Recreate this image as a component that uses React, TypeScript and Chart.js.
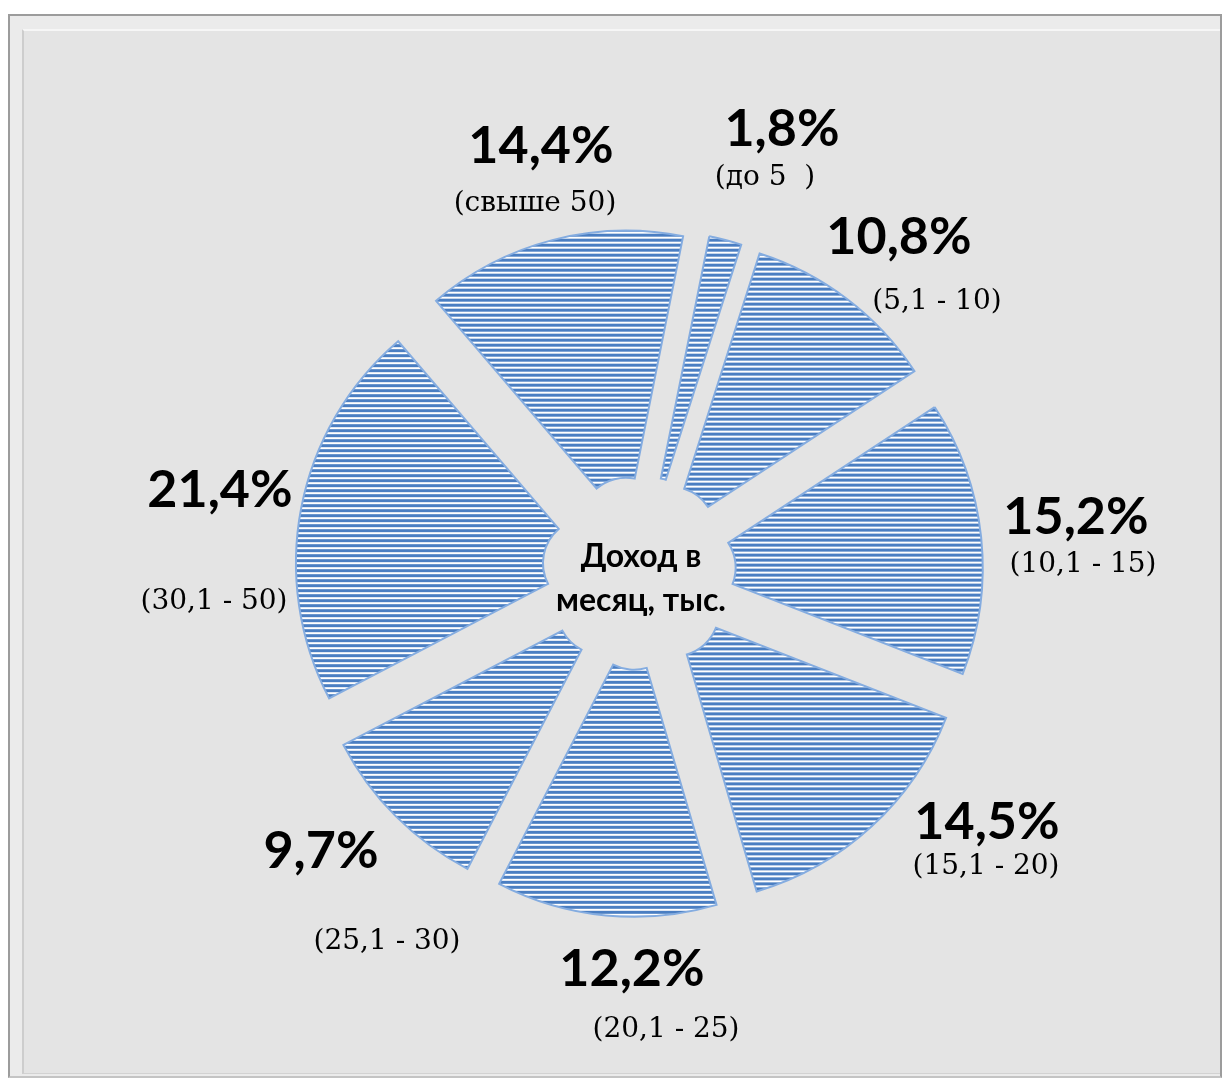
import React, { useEffect, useRef } from "react";
import { Chart, registerables } from "chart.js";

Chart.register(...registerables);

// ---- data ----
const categories = ["(до 5  )", "(5,1 - 10)", "(10,1 - 15)", "(15,1 - 20)", "(20,1 - 25)", "(25,1 - 30)", "(30,1 - 50)", "(свыше 50)"];
const shares = [1.8, 10.8, 15.2, 14.5, 12.2, 9.7, 21.4, 14.4];
const centerTitle = ["Доход в", "месяц, тыс."];

// ---- label layout (offsets from the chart centre, px) ----
const pctOffsets = [[143, -444], [260, -336], [437, -56], [348, 249], [-7, 396], [-318, 278], [-419, -83], [-98, -427]];
const catOffsets = [[126, -395], [298, -271], [444, -8], [347, 294], [27, 457], [-252, 369], [-425, 29], [-104, -369]];

const EXPLODE = 52;

function makePattern(): CanvasPattern | string {
  const c = document.createElement("canvas");
  c.width = 4;
  c.height = 5;
  const g = c.getContext("2d");
  if (!g) return "#4f81bd";
  g.fillStyle = "#ffffff";
  g.fillRect(0, 0, 4, 5);
  g.fillStyle = "#4a7ec2";
  g.fillRect(0, 0, 4, 3);
  const p = g.createPattern(c, "repeat");
  return p || "#4f81bd";
}

const fmt = (v: number) => v.toFixed(1).replace(".", ",") + "%";

export default function App() {
  const ref = useRef<HTMLCanvasElement>(null);
  useEffect(() => {
    if (!ref.current) return;
    const pattern = makePattern();
    const explodePlugin = {
      id: "explode",
      beforeDatasetDraw(chart: any, args: any) {
        const ctx = chart.ctx;
        args.meta.data.forEach((arc: any) => {
          const half = (arc.startAngle + arc.endAngle) / 2;
          ctx.save();
          ctx.translate(Math.cos(half) * EXPLODE, Math.sin(half) * EXPLODE);
          arc.draw(ctx);
          ctx.restore();
        });
        return false;
      },
    };
    const labelPlugin = {
      id: "labels",
      afterDraw(chart: any) {
        const ctx = chart.ctx;
        const arc0 = chart.getDatasetMeta(0).data[0];
        const cx = arc0.x;
        const cy = arc0.y;
        ctx.save();
        ctx.fillStyle = "#000";
        ctx.textAlign = "center";
        ctx.textBaseline = "middle";
        shares.forEach((v, i) => {
          ctx.font = "bold 52px Lato";
          ctx.fillText(fmt(v), cx + pctOffsets[i][0], cy + pctOffsets[i][1]);
          ctx.font = "28px 'DejaVu Serif'";
          ctx.fillText(categories[i], cx + catOffsets[i][0], cy + catOffsets[i][1]);
        });
        ctx.font = "bold 32px Lato";
        ctx.fillText(centerTitle[0], cx + 2, cy - 16);
        ctx.fillText(centerTitle[1], cx + 2, cy + 28);
        ctx.restore();
      },
    };
    const chart = new Chart(ref.current, {
      type: "doughnut",
      data: {
        labels: categories,
        datasets: [
          {
            data: shares,
            backgroundColor: pattern as any,
            borderColor: "#84ace0",
            borderWidth: 2,
            borderJoinStyle: "miter" as any,
          },
        ],
      },
      options: {
        responsive: false,
        animation: false,
        rotation: 11.3,
        radius: 292,
        cutout: "15.4%",
        layout: { padding: { left: 38, right: 0, top: 43, bottom: 0 } },
        plugins: { legend: { display: false }, tooltip: { enabled: false } },
      },
      plugins: [explodePlugin, labelPlugin],
    });
    return () => chart.destroy();
  }, []);

  return (
    <div
      style={{
        position: "absolute",
        left: 8,
        top: 14,
        width: 1214,
        height: 1064,
        boxSizing: "border-box",
        border: "2px solid #9c9c9c",
        borderBottom: "2px solid #c4c4c4",
        background: "#ebebeb",
        overflow: "hidden",
      }}
    >
      <div
        style={{
          position: "absolute",
          left: 12,
          top: 13,
          width: 1200,
          height: 1045,
          boxSizing: "border-box",
          background: "#e4e4e4",
          borderTop: "2px solid #f6f6f6",
          borderLeft: "2px solid #cdcdcd",
          borderBottom: "1px solid #d2d2d2",
        }}
      />
      <canvas ref={ref} width={1196} height={1045} style={{ position: "absolute", left: 12, top: 13 }} />
    </div>
  );
}
